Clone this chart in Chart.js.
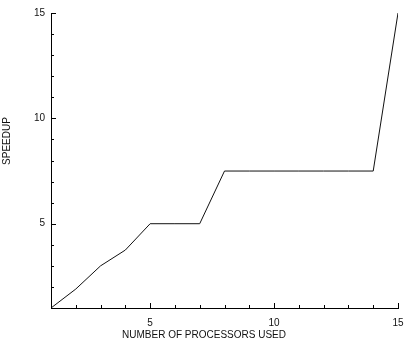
<!DOCTYPE html>
<html>
<head>
<meta charset="utf-8">
<script src="https://cdn.jsdelivr.net/npm/chart.js@4/dist/chart.umd.min.js"></script>
<style>
html,body{margin:0;padding:0;background:#fff;}
#wrap{width:404px;height:343px;position:relative;}
</style>
</head>
<body>
<div id="wrap"><canvas id="c" width="404" height="343"></canvas></div>
<script>
const processors = [1,2,3,4,5,6,7,8,9,10,11,12,13,14,15];
const speedup = [1,1.9,3,3.75,5,5,5,7.5,7.5,7.5,7.5,7.5,7.5,7.5,15];
const xTickLabels = [5,10,15];
const yTickLabels = [5,10,15];
const xTitle = 'NUMBER OF PROCESSORS USED';
const yTitle = 'SPEEDUP';

const FONT = '"Liberation Sans", Arial, sans-serif';

const innerTicks = {
  id: 'innerTicks',
  afterDraw(chart) {
    const ctx = chart.ctx;
    const xs = chart.scales.x, ys = chart.scales.y;
    const a = chart.chartArea;
    ctx.save();
    ctx.strokeStyle = '#000';
    ctx.lineWidth = 1;
    ctx.beginPath();
    for (let v = 1; v <= 15; v++) {
      const px = Math.round(xs.getPixelForValue(v)) + 0.5;
      const len = (v % 5 === 0) ? 5 : 3;
      ctx.moveTo(px, a.bottom); ctx.lineTo(px, a.bottom - len);
      const py = Math.round(ys.getPixelForValue(v)) + 0.5;
      ctx.moveTo(a.left, py); ctx.lineTo(a.left + len, py);
    }
    ctx.stroke();
    ctx.fillStyle = '#111';
    ctx.font = '10px ' + FONT;
    ctx.textAlign = 'center';
    ctx.textBaseline = 'middle';
    ctx.fillText(xTitle, 204, 335);
    ctx.translate(7, 141);
    ctx.rotate(-Math.PI/2);
    ctx.fillText(yTitle, 0, 0);
    ctx.restore();
  }
};

new Chart(document.getElementById('c'), {
  type: 'line',
  data: {
    labels: processors,
    datasets: [{
      data: processors.map((p,i)=>({x:p,y:speedup[i]})),
      borderColor: '#111',
      borderWidth: 1,
      pointRadius: 0,
      tension: 0,
      fill: false
    }]
  },
  options: {
    responsive: false,
    animation: false,
    events: [],
    layout: {padding: {left: 0, top: 13, right: 6, bottom: 0}},
    plugins: {legend: {display: false}, tooltip: {enabled: false}},
    scales: {
      x: {
        type: 'linear', min: 1, max: 15,
        afterFit(s) { s.height = 35; s.paddingRight = 0; s.paddingLeft = 0; },
        afterBuildTicks(s) { s.ticks = xTickLabels.map(v=>({value:v})); },
        ticks: {color:'#111', font:{size:10, family:FONT}, padding: 9, maxRotation:0},
        grid: {display: true, drawOnChartArea: false, drawTicks: false},
        border: {color:'#000', width:1}
      },
      y: {
        type: 'linear', min: 1, max: 15,
        afterFit(s) { s.width = 51; s.paddingTop = 0; s.paddingBottom = 0; },
        afterBuildTicks(s) { s.ticks = yTickLabels.map(v=>({value:v})); },
        ticks: {color:'#111', font:{size:10, family:FONT}, padding: 6},
        grid: {display: true, drawOnChartArea: false, drawTicks: false},
        border: {color:'#000', width:1}
      }
    }
  },
  plugins: [innerTicks]
});
</script>
</body>
</html>
